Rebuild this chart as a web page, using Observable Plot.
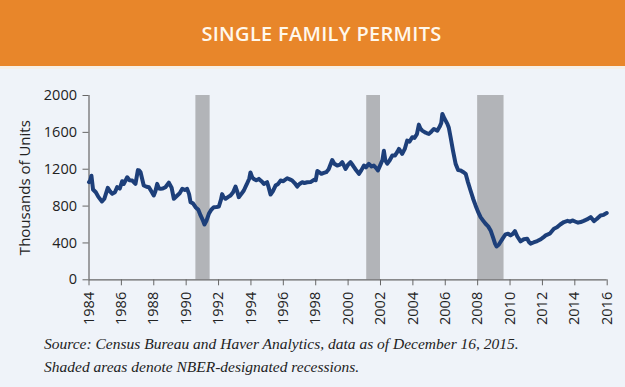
<!DOCTYPE html>
<html>
<head>
<meta charset="utf-8">
<script src="https://cdn.jsdelivr.net/npm/d3@7"></script>
<script src="https://cdn.jsdelivr.net/npm/@observablehq/plot@0.6"></script>
<style>
  html, body { margin: 0; padding: 0; background: #eff3f9; }
  #wrap { width: 625px; height: 387px; position: relative; overflow: hidden; background: #eff3f9; }
  #header { height: 66px; background: #e8862a; color: #fff8ec; font-family: "Open Sans", sans-serif; font-weight: 600;
    font-size: 20px; display: flex; align-items: center; justify-content: center; letter-spacing: 0.3px; padding-left: 18px; box-sizing: border-box; }
  #strip { height: 3px; background: #f6efe6; }
  #chart { position: absolute; left: 0; top: 66px; }
  #chart svg g[aria-label="y-axis label"] text { font-size: 15px; }
  #note { position: absolute; left: 44px; top: 332px; font-family: "Liberation Serif", serif; font-style: italic; font-size: 15.5px; line-height: 23px; color: #222; }
</style>
</head>
<body>
<div id="wrap">
  <div id="header">SINGLE FAMILY PERMITS</div>
  <div id="strip"></div>
  <div id="chart"></div>
  <div id="note">Source: Census Bureau and Haver Analytics, data as of December 16, 2015.<br>Shaded areas denote NBER-designated recessions.</div>
</div>
<script>
// Time (decimal year) and single-family permits (thousands of units, SAAR)
const years = [
  1984.00,1984.08,1984.15,1984.25,1984.42,1984.58,1984.80,1984.95,1985.16,1985.30,1985.43,1985.60,1985.74,1985.90,
  1986.05,1986.15,1986.36,1986.50,1986.67,1986.87,1987.02,1987.10,1987.18,1987.38,1987.55,1987.70,1987.85,
  1988.00,1988.10,1988.21,1988.32,1988.42,1988.55,1988.72,1988.93,1989.10,1989.24,1989.45,1989.60,1989.76,1989.92,
  1990.06,1990.18,1990.27,1990.42,1990.58,1990.75,1990.89,1991.02,1991.13,1991.25,1991.40,1991.55,1991.71,1991.88,
  1992.02,1992.15,1992.22,1992.30,1992.43,1992.60,1992.74,1992.90,1993.05,1993.15,1993.25,1993.40,1993.56,1993.75,
  1993.90,1993.97,1994.08,1994.18,1994.33,1994.49,1994.65,1994.80,1995.00,1995.10,1995.21,1995.35,1995.52,1995.68,
  1995.83,1996.00,1996.24,1996.40,1996.55,1996.70,1996.86,1997.00,1997.17,1997.30,1997.48,1997.68,1997.89,1998.00,
  1998.10,1998.20,1998.35,1998.50,1998.65,1998.80,1999.02,1999.15,1999.33,1999.50,1999.64,1999.84,2000.00,2000.15,
  2000.30,2000.45,2000.67,2000.82,2000.98,2001.10,2001.28,2001.45,2001.59,2001.75,2001.84,2002.00,2002.12,2002.21,
  2002.30,2002.42,2002.58,2002.73,2002.90,2003.05,2003.14,2003.34,2003.50,2003.65,2003.80,2003.96,2004.10,2004.25,
  2004.37,2004.47,2004.58,2004.75,2004.88,2004.99,2005.15,2005.30,2005.51,2005.65,2005.75,2005.82,2005.95,2006.13,
  2006.22,2006.33,2006.48,2006.64,2006.80,2006.95,2007.10,2007.26,2007.40,2007.56,2007.72,2007.87,2008.02,2008.18,
  2008.35,2008.49,2008.65,2008.80,2008.95,2009.08,2009.17,2009.30,2009.41,2009.55,2009.72,2009.88,2010.03,2010.18,
  2010.30,2010.45,2010.65,2010.85,2011.06,2011.17,2011.27,2011.45,2011.68,2011.90,2012.05,2012.20,2012.45,2012.71,
  2012.90,2013.10,2013.33,2013.55,2013.70,2013.85,2014.05,2014.20,2014.36,2014.55,2014.75,2014.98,2015.08,2015.18,
  2015.35,2015.59,2015.78,2015.97
];
const permits = [
  1060,1080,1130,980,950,900,850,880,998,960,933,950,1005,990,
  1070,1040,1113,1080,1077,1041,1190,1186,1170,1023,1010,1005,960,
  915,960,1041,990,987,990,1005,1055,1000,879,915,940,987,975,
  987,930,842,830,788,760,698,650,600,640,716,760,788,790,
  795,870,930,900,879,900,915,950,1012,960,897,930,969,1040,
  1100,1165,1110,1095,1080,1095,1070,1041,1059,1000,925,960,1023,1040,
  1077,1070,1102,1090,1077,1050,1012,1040,1059,1050,1059,1060,1085,1080,
  1180,1170,1150,1160,1168,1200,1300,1260,1240,1250,1276,1204,1250,1276,
  1240,1200,1150,1190,1240,1220,1258,1230,1240,1210,1186,1250,1300,1400,
  1294,1260,1300,1348,1350,1390,1420,1366,1420,1511,1500,1547,1540,1580,
  1684,1640,1619,1600,1590,1583,1610,1637,1619,1660,1700,1800,1750,1692,
  1650,1547,1400,1258,1190,1186,1170,1150,1060,969,880,807,740,680,
  640,608,580,536,460,390,362,380,410,450,493,500,482,500,
  529,470,417,440,446,410,392,405,420,440,460,482,500,554,
  570,600,627,640,630,644,630,620,627,640,655,680,660,637,
  660,698,705,724
];
// NBER recession spans as shaded in the reference
const recStart = [1990.6, 2001.15, 2008.0];
const recEnd   = [1991.48, 2002.0, 2009.63];
const yTicks = [0, 400, 800, 1200, 1600, 2000];
const xTicks = d3.range(1984, 2017, 2);

const series = years.map((t, i) => ({t, v: permits[i]}));
const recessions = recStart.map((s, i) => ({s, e: recEnd[i]}));

const chart = Plot.plot({
  width: 625,
  height: 260,
  marginTop: 29,
  marginLeft: 88.5,
  marginRight: 18.3,
  marginBottom: 46.7,
  style: {fontFamily: "Open Sans, sans-serif", fontSize: "14px", background: "transparent", color: "#222"},
  x: {domain: [1984, 2016]},
  y: {domain: [0, 2000]},
  marks: [
    Plot.rectY(recessions, {x1: "s", x2: "e", y1: 0, y2: 2000, fill: "#b2b4b8"}),
    Plot.ruleY([0], {stroke: "#666", strokeWidth: 1.2}),
    Plot.ruleX([1984], {stroke: "#666", strokeWidth: 1.2}),
    Plot.axisY({ticks: yTicks, tickSize: 6, tickPadding: 6, stroke: "#666", tickFormat: d => String(d), label: "Thousands of Units", labelAnchor: "center", labelArrow: "none", labelOffset: 70, fontSize: 14.5}),
    Plot.axisX({ticks: xTicks, tickSize: 6, tickPadding: 6, tickRotate: -90, tickFormat: d => String(d), stroke: "#666", label: null, fontSize: 14.5}),
    Plot.line(series, {x: "t", y: "v", stroke: "#1d3f7a", strokeWidth: 4, strokeLinejoin: "round", strokeLinecap: "round"})
  ]
});
document.getElementById("chart").appendChild(chart);
</script>
</body>
</html>
